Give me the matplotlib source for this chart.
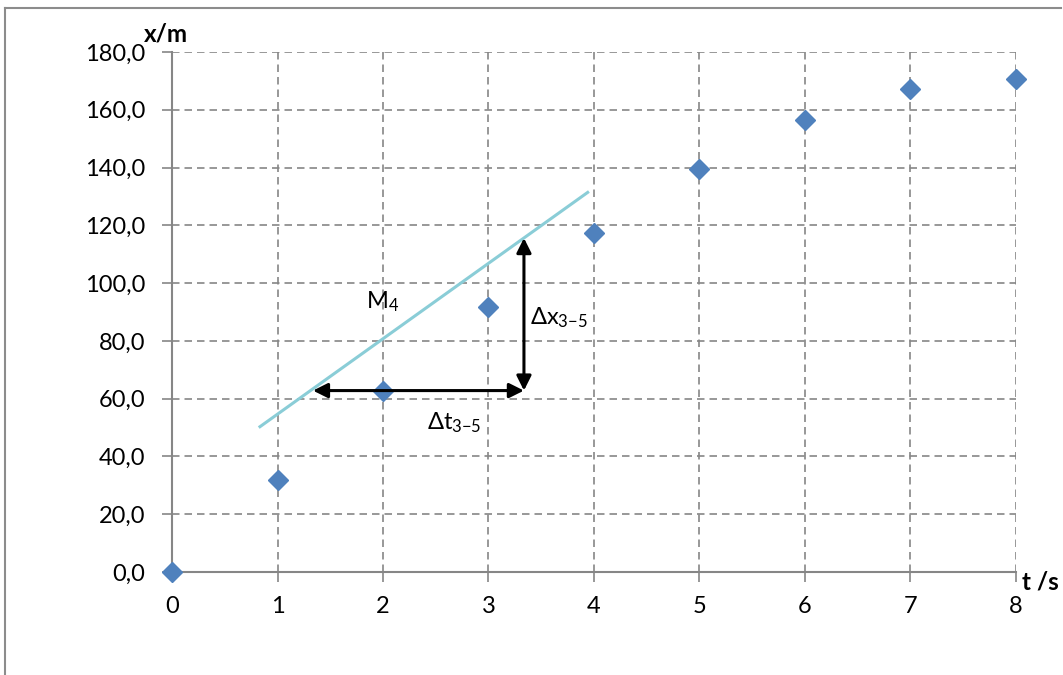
import matplotlib
matplotlib.use("Agg")
import matplotlib.pyplot as plt
from matplotlib.lines import Line2D

# Data
t_values = [0, 1, 2, 3, 4, 5, 6, 7, 8]
x_values = [0.0, 31.8, 62.6, 91.7, 117.3, 139.5, 156.4, 167.2, 170.8]
x_ticks = [0, 1, 2, 3, 4, 5, 6, 7, 8]
y_ticks = [0, 20, 40, 60, 80, 100, 120, 140, 160, 180]
y_tick_labels = ["0,0", "20,0", "40,0", "60,0", "80,0", "100,0", "120,0", "140,0", "160,0", "180,0"]
tangent_t = [0.834, 3.94]
tangent_x = [50.3, 131.4]
dt_arrow = [(1.336, 62.8), (3.336, 62.8)]
dx_arrow = [(3.336, 62.8), (3.336, 115.6)]

plt.rcParams['font.family'] = ['Lato', 'DejaVu Sans']
plt.rcParams['mathtext.default'] = 'regular'

fig = plt.figure(figsize=(10.63, 6.75), dpi=100)
ax = fig.add_axes([172/1063, 1-572/675, (1016-172)/1063, (572-52)/675])

gray = '#868686'
ax.set_xlim(0, 8)
ax.set_ylim(0, 180)
ax.set_xticks(x_ticks)
ax.set_yticks(y_ticks)
ax.set_yticklabels(y_tick_labels)
ax.grid(True, color=gray, linestyle=(0, (4.5, 3)), linewidth=1.2)
ax.set_axisbelow(True)
for s in ['top', 'right']:
    ax.spines[s].set_visible(False)
for s in ['left', 'bottom']:
    ax.spines[s].set_color(gray)
    ax.spines[s].set_linewidth(1.5)
ax.tick_params(axis='both', direction='out', length=7, width=1.2, color=gray,
               labelsize=17, labelcolor='black')
ax.tick_params(axis='y', pad=12)
ax.tick_params(axis='x', pad=10)

# tangent line
ax.plot(tangent_t, tangent_x, color='#8ACDD7', linewidth=2.2, zorder=3)

# data points
ax.plot(t_values, x_values, linestyle='none', marker='D', markersize=10.5,
        color='#4F81BD', clip_on=False, zorder=5)

# arrows
for (a, b) in [dt_arrow, dx_arrow]:
    ax.annotate('', xy=b, xytext=a,
                arrowprops=dict(arrowstyle='<|-|>', color='black', lw=2.2,
                                mutation_scale=22, shrinkA=0, shrinkB=0),
                zorder=6)

ax.text(1.84, 93.5, 'M$_4$', fontsize=17, ha='left', va='center')
ax.text(3.39, 88, 'Δx$_{3{-}5}$', fontsize=17, ha='left', va='center')
ax.text(2.42, 51.6, 'Δt$_{3{-}5}$', fontsize=17, ha='left', va='center')

fig.text(166/1063, 1-34/675, 'x/m', fontsize=17.5, fontweight='bold', ha='center', va='center')
fig.text(1040/1063, 1-582/675, 't /s', fontsize=17.5, fontweight='bold', ha='center', va='center')

# outer frame
fig.add_artist(Line2D([5/1063, 1061/1063], [1-8/675, 1-8/675], color='#8c8c8c', lw=1.5))
fig.add_artist(Line2D([5/1063, 5/1063], [1-8/675, 0], color='#8c8c8c', lw=1.5))

fig.savefig('out.png', dpi=100)
